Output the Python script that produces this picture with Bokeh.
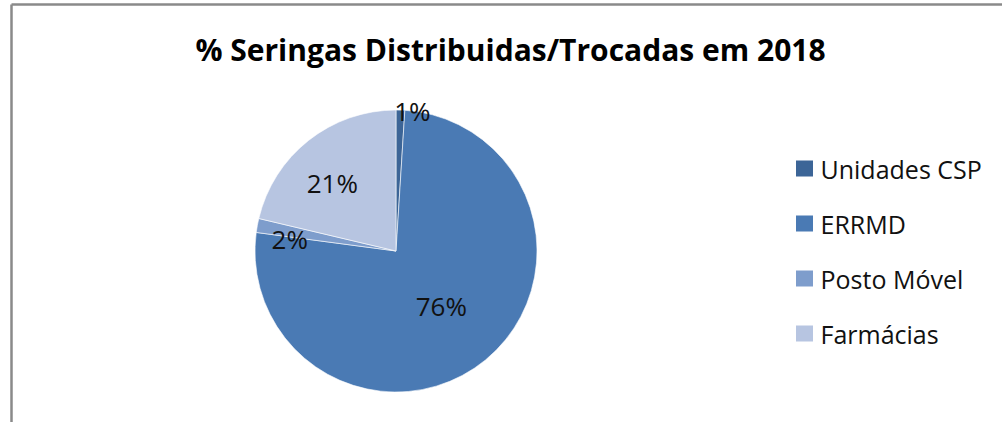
import math
from bokeh.plotting import figure
from bokeh.models import Range1d, ColumnDataSource
from bokeh.core.properties import value
from bokeh.embed import file_html
from bokeh.resources import INLINE

# ---- data ----
title_text = "% Seringas Distribuidas/Trocadas em 2018"
categories = ["Unidades CSP", "ERRMD", "Posto Móvel", "Farmácias"]
shares = [1.0, 76.1, 1.6, 21.3]
colors = ["#3c6597", "#4a7ab4", "#7e9dcc", "#b7c5e1"]

# ---- layout (pixels) ----
W, H = 1002, 422
cx, cy, R = 395.5, H - 250.5, 141
label_rf = [0.99, 0.506, 0.766, 0.66]   # label radius fraction per slice
label_dx = [12, 0, 0, -6]
label_dy = [0, 0, 8, 5]
FONT = "Open Sans"

p = figure(width=W, height=H, x_range=Range1d(0, W), y_range=Range1d(0, H),
           output_backend="svg", toolbar_location=None, min_border=0,
           x_axis_location=None, y_axis_location=None)
p.grid.visible = False
p.outline_line_color = None
p.background_fill_color = "white"
p.border_fill_color = "white"

# frame (chart area border)
p.segment(x0=[11, 11], y0=[-10, H - 4], x1=[11, W + 10], y1=[H - 4, H - 4],
          line_color="#8a8a8a", line_width=2.5)

# pie
total = sum(shares)
starts, ends, mids = [], [], []
cum = 0.0
for s in shares:
    a0 = math.pi / 2 - 2 * math.pi * cum / total
    cum += s
    a1 = math.pi / 2 - 2 * math.pi * cum / total
    starts.append(a0); ends.append(a1); mids.append((a0 + a1) / 2)

src = ColumnDataSource(dict(start=starts, end=ends, color=colors))
p.wedge(x=cx, y=cy, radius=R, start_angle="start", end_angle="end",
        direction="clock", fill_color="color", line_color="white",
        line_width=0.6, source=src)

lx = [cx + rf * R * math.cos(m) + dx for rf, m, dx in zip(label_rf, mids, label_dx)]
ly = [cy + rf * R * math.sin(m) - dy for rf, m, dy in zip(label_rf, mids, label_dy)]
labels = [f"{round(s)}%" for s in shares]
p.text(x=lx, y=ly, text=labels, text_font=value(FONT), text_font_size="26px",
       text_color="#111111", text_align="center", text_baseline="middle")

# title
p.text(x=[510], y=[H - 49], text=[title_text], text_font=value(FONT),
       text_font_size="30px", text_font_style="bold", text_color="#000000",
       text_align="center", text_baseline="middle")

# legend
ly0, lstep = 168, 55
leg_y = [H - (ly0 + i * lstep) for i in range(len(categories))]
p.rect(x=[804] * len(categories), y=leg_y, width=17, height=16,
       fill_color=colors, line_color=None)
p.text(x=[820] * len(categories), y=leg_y, text=categories, text_font=value(FONT),
       text_font_size="25px", text_color="#111111", text_align="left",
       text_baseline="middle")

open("out.html", "w").write(file_html(p, INLINE))
